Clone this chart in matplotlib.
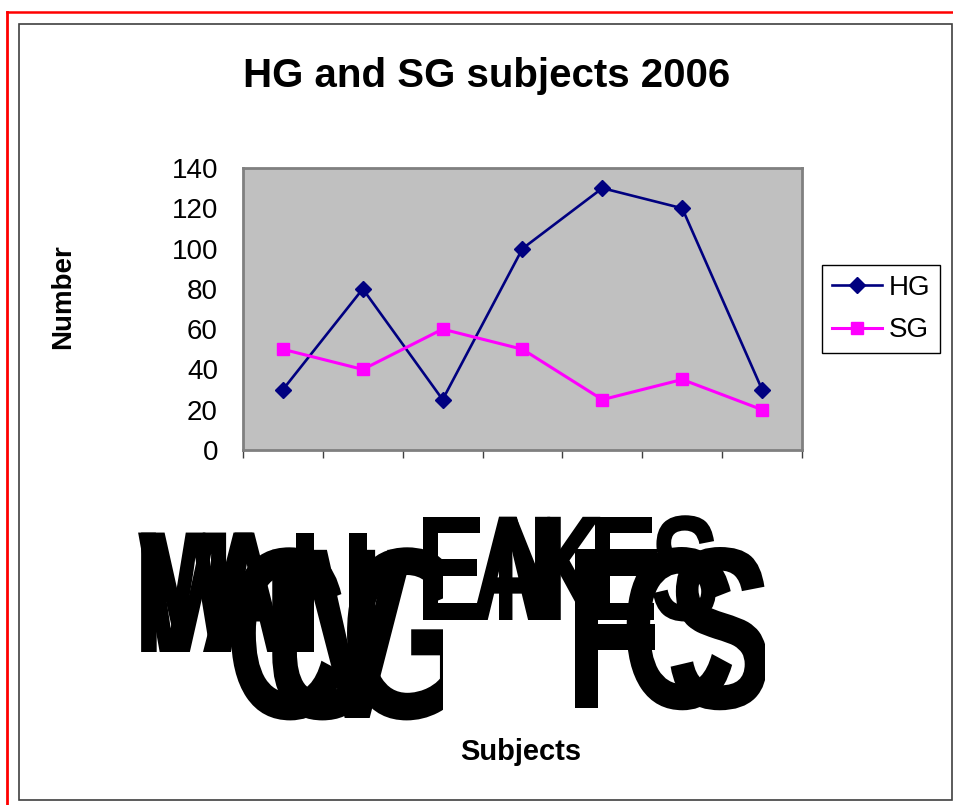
import numpy as np
import matplotlib
matplotlib.use('Agg')
import matplotlib.pyplot as plt
from matplotlib import patheffects
from matplotlib.patches import Rectangle
from matplotlib.lines import Line2D
from matplotlib.transforms import Affine2D

plt.rcParams['font.family'] = ['Liberation Sans', 'DejaVu Sans']

# ── data ──────────────────────────────────────────────────────────────
hg = [30, 80, 25, 100, 130, 120, 30]
sg = [50, 40, 60, 50, 25, 35, 20]
y_ticks = [0, 20, 40, 60, 80, 100, 120, 140]
series_names = ['HG', 'SG']

# the category labels came out as huge overlapping glyphs in the original
# rows: glyphs, left edges (px), font size, baseline (px), clip right (px)
garbled_rows = [
    (['M', 'W', 'A', 'I', 'I'], [133, 138, 200, 288, 341], 125, 652, 443),
    (['C', 'U', 'V', 'G'], [224, 262, 300, 340], 176, 718, 443),
    (['E', 'A', 'N', 'K', 'E', 'S'], [416, 470, 492, 528, 588, 650], 108, 620, 765),
    (['F', 'C', 'S'], [564, 620, 666], 166, 708, 765),
]

W, H = 954, 805


class Squash(patheffects.AbstractPathEffect):
    """Squeeze text horizontally around its origin."""
    def __init__(self, sx):
        super().__init__()
        self.sx = sx

    def draw_path(self, renderer, gc, tpath, affine, rgbFace=None):
        renderer.draw_path(gc, tpath, Affine2D().scale(self.sx, 1) + affine, rgbFace)


def fx(x):
    return x / W


def fy(y):
    return 1 - y / H


fig = plt.figure(figsize=(W / 100, H / 100), dpi=100)

# ── outer borders ─────────────────────────────────────────────────────
fig.add_artist(Line2D([fx(7), fx(7)], [0, fy(12.5)], color='red', lw=2.0,
                      transform=fig.transFigure))
fig.add_artist(Line2D([fx(7), 1], [fy(12.5), fy(12.5)], color='red', lw=1.8,
                      transform=fig.transFigure))
fig.add_artist(Rectangle((fx(18.5), fy(800)), fx(952) - fx(18.5), fy(24.5) - fy(800),
                         fill=False, ec='#404040', lw=1.2, transform=fig.transFigure))

# ── plot area ─────────────────────────────────────────────────────────
ax = fig.add_axes([fx(243), fy(450), fx(802) - fx(243), fy(168) - fy(450)])
ax.set_facecolor('#C0C0C0')
x = np.arange(len(hg)) + 0.5
ax.plot(x, hg, color='#000080', lw=1.9, marker='D', ms=8, label=series_names[0])
ax.plot(x, sg, color='#FF00FF', lw=2.2, marker='s', ms=9, label=series_names[1])
ax.set_xlim(0, len(hg))
ax.set_ylim(y_ticks[0], y_ticks[-1])
ax.set_yticks(y_ticks)
ax.set_xticks(np.arange(len(hg) + 1))
ax.set_xticklabels([])
ax.tick_params(axis='y', length=0, pad=18, labelsize=20)
ax.tick_params(axis='x', length=6, width=1.0, color='#404040', direction='out')
for s in ax.spines.values():
    s.set_color('#808080')
    s.set_linewidth(2)

# ── texts ─────────────────────────────────────────────────────────────
fig.text(fx(487), fy(76), 'HG and SG subjects 2006', ha='center', va='center',
         fontsize=29, weight='bold')
fig.text(fx(63), fy(297), 'Number', ha='center', va='center', rotation=90,
         fontsize=20, weight='bold')
fig.text(fx(521), fy(752), 'Subjects', ha='center', va='center',
         fontsize=21, weight='bold')

for glyphs, lefts, size, base, clip_r in garbled_rows:
    clip = Rectangle((fx(100), fy(780)), fx(clip_r) - fx(100), fy(480) - fy(780),
                     transform=fig.transFigure)
    for g, left in zip(glyphs, lefts):
        t = fig.text(fx(left), fy(base), g, ha='left', va='baseline',
                     fontsize=size, weight='bold', color='black',
                     path_effects=[Squash(0.7)])
        t.set_clip_path(clip)

# ── legend ────────────────────────────────────────────────────────────
leg = ax.legend(loc='upper left', bbox_to_anchor=(fx(822), fy(265)),
                bbox_transform=fig.transFigure, fontsize=20, frameon=True,
                fancybox=False, edgecolor='black', framealpha=1,
                handlelength=1.8, handletextpad=0.25, borderpad=0.35,
                labelspacing=0.6, borderaxespad=0)
leg.get_frame().set_linewidth(1.0)

fig.savefig('out.png', dpi=100)
